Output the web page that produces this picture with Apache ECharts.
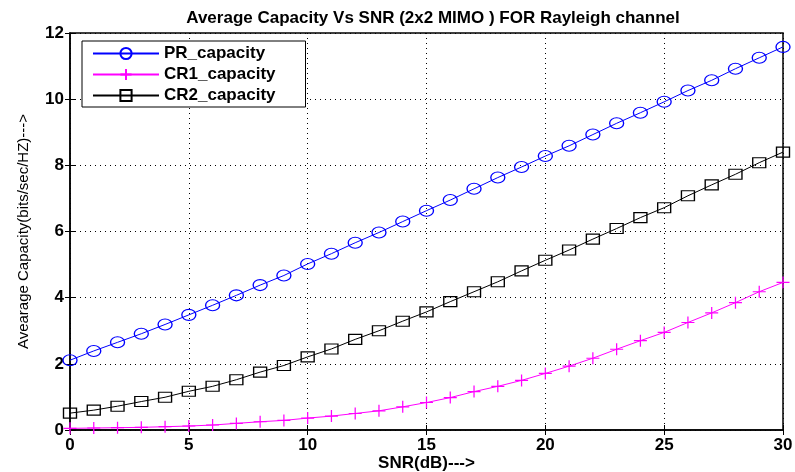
<!DOCTYPE html>
<html>
<head>
<meta charset="utf-8">
<script src="https://cdn.jsdelivr.net/npm/echarts@6/dist/echarts.min.js"></script>
<style>
html, body { margin: 0; padding: 0; background: #fff; }
#chart { width: 795px; height: 472px; }
</style>
</head>
<body>
<div id="chart"></div>
<script>
// SNR in dB, 0..30
const snr = [0,1,2,3,4,5,6,7,8,9,10,11,12,13,14,15,16,17,18,19,20,21,22,23,24,25,26,27,28,29,30]
const prCapacity = [2.11,2.39,2.65,2.91,3.19,3.48,3.77,4.07,4.38,4.67,5.02,5.33,5.66,5.97,6.30,6.63,
    6.95,7.29,7.63,7.95,8.28,8.59,8.93,9.27,9.59,9.92,10.26,10.57,10.92,11.25,11.58]
const cr1Capacity = [0.05,0.06,0.07,0.08,0.10,0.12,0.15,0.20,0.25,0.29,0.36,0.42,0.50,0.58,0.70,0.83,
    0.98,1.16,1.32,1.50,1.71,1.93,2.17,2.44,2.70,2.95,3.25,3.54,3.85,4.18,4.46]
const cr2Capacity = [0.51,0.60,0.72,0.86,0.99,1.17,1.32,1.52,1.75,1.95,2.21,2.45,2.74,3.00,3.29,3.57,
    3.88,4.18,4.48,4.81,5.13,5.44,5.77,6.09,6.42,6.72,7.08,7.41,7.73,8.08,8.40]
const seriesNames = ['PR_capacity', 'CR1_capacity', 'CR2_capacity']

const pairs = (ys) => snr.map((x, i) => [x, ys[i]])

const chart = echarts.init(document.getElementById('chart'))
const boldFont = 'Liberation Sans, Arial, sans-serif'
const axisFont = { color: '#000', fontSize: 17, fontWeight: 'bold', fontFamily: boldFont }
const dotted = { show: true, lineStyle: { color: '#000', type: [1, 4], width: 1 } }

const option = {
    backgroundColor: '#fff',
    animation: false,
    title: {
        text: 'Average Capacity Vs SNR (2x2 MIMO ) FOR Rayleigh channel',
        left: 428,
        textAlign: 'center',
        top: 5,
        textStyle: { color: '#000', fontSize: 17, fontWeight: 'bold', fontFamily: boldFont }
    },
    legend: {
        data: seriesNames,
        orient: 'vertical',
        left: 82,
        top: 41,
        itemWidth: 66,
        itemHeight: 14,
        itemGap: 4,
        padding: [4, 30, 3, 10],
        borderColor: '#000',
        borderWidth: 1,
        backgroundColor: '#fff',
        textStyle: { color: '#000', fontSize: 17, fontWeight: 'bold', fontFamily: boldFont }
    },
    grid: {
        left: 70, right: 12, top: 33, bottom: 42,
        outerBoundsMode: 'none',
        show: true, borderColor: '#000', borderWidth: 1.5
    },
    xAxis: [{
        type: 'value', min: 0, max: 30, interval: 5,
        name: 'SNR(dB)--->', nameLocation: 'middle', nameGap: 25, nameMoveOverlap: false,
        nameTextStyle: axisFont,
        axisLine: { show: true, lineStyle: { color: '#000', width: 1.5 } },
        axisTick: { show: true, inside: true, length: 5, lineStyle: { color: '#000' } },
        axisLabel: Object.assign({ margin: 7 }, axisFont),
        splitLine: dotted
    }, {
        type: 'value', min: 0, max: 30, interval: 5, position: 'top',
        axisLine: { show: false },
        axisTick: { show: true, inside: true, length: 5, lineStyle: { color: '#000' } },
        axisLabel: { show: false },
        splitLine: { show: false }
    }],
    yAxis: [{
        type: 'value', min: 0, max: 12, interval: 2,
        name: 'Avearage Capacity(bits/sec/HZ)--->', nameLocation: 'middle', nameGap: 39, nameMoveOverlap: false,
        nameTextStyle: { color: '#000', fontSize: 15, fontFamily: 'Liberation Sans Narrow, Arial Narrow, sans-serif' },
        axisLine: { show: true, lineStyle: { color: '#000', width: 1.5 } },
        axisTick: { show: true, inside: true, length: 5, lineStyle: { color: '#000' } },
        axisLabel: Object.assign({ margin: 6 }, axisFont),
        splitLine: dotted
    }, {
        type: 'value', min: 0, max: 12, interval: 2, position: 'right',
        axisLine: { show: false },
        axisTick: { show: true, inside: true, length: 5, lineStyle: { color: '#000' } },
        axisLabel: { show: false },
        splitLine: { show: false }
    }],
    series: [
        {
            name: seriesNames[0], type: 'line', data: pairs(prCapacity),
            symbol: 'circle', symbolSize: [14, 11], showAllSymbol: true,
            lineStyle: { color: '#0000ff', width: 1 },
            itemStyle: { color: 'none', borderColor: '#0000ff', borderWidth: 1.2 }
        },
        {
            name: seriesNames[1], type: 'line', data: pairs(cr1Capacity),
            symbol: 'path://M5,0 L5,10 M0,5 L10,5', symbolSize: [13, 12], showAllSymbol: true,
            lineStyle: { color: '#ff00ff', width: 1 },
            itemStyle: { color: 'none', borderColor: '#ff00ff', borderWidth: 1.2 }
        },
        {
            name: seriesNames[2], type: 'line', data: pairs(cr2Capacity),
            symbol: 'rect', symbolSize: [13, 10], showAllSymbol: true,
            lineStyle: { color: '#000', width: 1 },
            itemStyle: { color: 'none', borderColor: '#000', borderWidth: 1.2 }
        }
    ]
}
chart.setOption(option)
</script>
</body>
</html>
